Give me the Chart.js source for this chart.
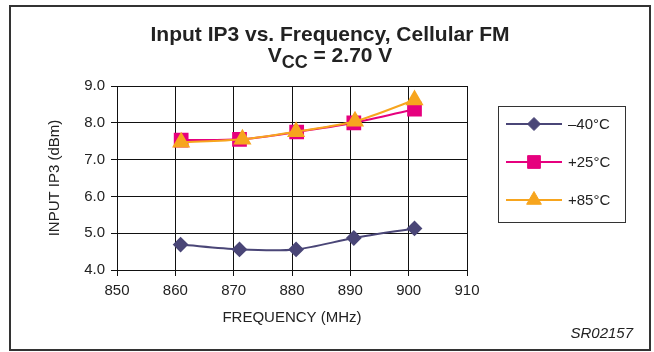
<!DOCTYPE html>
<html>
<head>
<meta charset="utf-8">
<script src="https://cdn.jsdelivr.net/npm/chart.js@4.4.1/dist/chart.umd.min.js"></script>
<style>
  html, body { margin: 0; padding: 0; background: #fff; }
  #wrap { width: 654px; height: 352px; }
</style>
</head>
<body>
<div id="wrap"><canvas id="wykres" width="654" height="352"></canvas></div>
<script>
// ────────────────────────────────────────────────
// DANE – częstotliwość (MHz) i IP3 wejściowe (dBm)
// ────────────────────────────────────────────────
const freqM40 = [860.9, 871.0, 880.7, 890.6, 901.0];
const ip3M40  = [4.69, 4.56, 4.56, 4.87, 5.13];

const freqP25 = [861.0, 871.0, 880.8, 890.6, 901.0];
const ip3P25  = [7.53, 7.55, 7.75, 8.00, 8.37];

const freqP85 = [861.0, 871.5, 880.7, 890.8, 901.0];
const ip3P85  = [7.47, 7.55, 7.76, 8.04, 8.62];

const serieEtykiety = ["\u201340\u00b0C", "+25\u00b0C", "+85\u00b0C"];
const xTicks = [850, 860, 870, 880, 890, 900, 910];
const yTicks = [4.0, 5.0, 6.0, 7.0, 8.0, 9.0];

const FONT = "'Liberation Sans', Arial, Helvetica, sans-serif";
const TEXT = "#222";

function punkty(xs, ys) {
  return xs.map((x, i) => ({ x, y: ys[i] }));
}

// ────────────────────────────────────────────────
// Tytuł, legenda w ramce, ramka zewnętrzna, sygnatura
// ────────────────────────────────────────────────
const dodatki = {
  id: "dodatki",
  afterDraw(chart) {
    const ctx = chart.ctx;
    ctx.save();

    // ramka dookoła całości
    ctx.strokeStyle = "#333";
    ctx.lineWidth = 2;
    ctx.strokeRect(10, 6, 640, 344);

    // tytuł – linia 1
    ctx.fillStyle = TEXT;
    ctx.textBaseline = "alphabetic";
    ctx.textAlign = "center";
    ctx.font = "bold 21px " + FONT;
    ctx.fillText("Input IP3 vs. Frequency, Cellular FM", 330, 41);

    // tytuł – linia 2 z indeksem dolnym
    const big = "bold 21px " + FONT;
    const sub = "bold 18px " + FONT;
    ctx.textAlign = "left";
    ctx.font = big; const wV = ctx.measureText("V").width;
    ctx.font = sub; const wCC = ctx.measureText("CC").width;
    ctx.font = big; const wReszta = ctx.measureText(" = 2.70 V").width;
    let x0 = 330 - (wV + wCC + wReszta) / 2;
    ctx.font = big; ctx.fillText("V", x0, 62);
    ctx.font = sub; ctx.fillText("CC", x0 + wV, 68);
    ctx.font = big; ctx.fillText(" = 2.70 V", x0 + wV + wCC, 62);

    // legenda
    ctx.strokeStyle = "#333";
    ctx.lineWidth = 1;
    ctx.strokeRect(498.5, 106.5, 127, 116);
    const wiersze = [124, 162, 200];
    ctx.font = "15px " + FONT;
    ctx.textBaseline = "middle";
    chart.data.datasets.forEach((ds, i) => {
      const y = wiersze[i];
      ctx.strokeStyle = ds.borderColor;
      ctx.lineWidth = ds.borderWidth;
      ctx.beginPath();
      ctx.moveTo(506, y);
      ctx.lineTo(562, y);
      ctx.stroke();
      ctx.fillStyle = ds.pointBackgroundColor;
      ctx.strokeStyle = ds.pointBorderColor;
      ctx.lineWidth = 1;
      Chart.helpers.drawPoint(ctx, {
        pointStyle: ds.pointStyle, radius: ds.pointRadius, rotation: 0, borderWidth: 1
      }, 534, y);
      ctx.fillStyle = TEXT;
      ctx.fillText(ds.label, 568, y + 1);
    });

    // sygnatura rysunku
    ctx.font = "italic 15px " + FONT;
    ctx.textAlign = "right";
    ctx.textBaseline = "alphabetic";
    ctx.fillStyle = TEXT;
    ctx.fillText("SR02157", 633, 338);

    ctx.restore();
  }
};

const linia = (label, xs, ys, kolor, styl, r, order) => ({
  label,
  data: punkty(xs, ys),
  borderColor: kolor,
  backgroundColor: kolor,
  pointBackgroundColor: kolor,
  pointBorderColor: kolor,
  borderWidth: 2,
  pointStyle: styl,
  pointRadius: r,
  pointHoverRadius: r,
  tension: 0.3,
  showLine: true,
  order
});

new Chart(document.getElementById("wykres"), {
  type: "scatter",
  data: {
    datasets: [
      linia(serieEtykiety[0], freqM40, ip3M40, "#4a4677", "rectRot", 6.5, 2),
      linia(serieEtykiety[1], freqP25, ip3P25, "#e6007e", "rect", 9, 1),
      linia(serieEtykiety[2], freqP85, ip3P85, "#f7a51e", "triangle", 8.5, 0)
    ]
  },
  options: {
    responsive: false,
    devicePixelRatio: 1,
    animation: false,
    layout: { padding: { top: 86, right: 187, bottom: 0, left: 0 } },
    plugins: {
      legend: { display: false },
      tooltip: { enabled: false },
      title: { display: false }
    },
    scales: {
      x: {
        type: "linear",
        min: xTicks[0],
        max: xTicks[xTicks.length - 1],
        afterBuildTicks: s => { s.ticks = xTicks.map(v => ({ value: v })); },
        afterFit: s => { s.height = 82; },
        ticks: {
          color: TEXT,
          font: { family: FONT, size: 15 },
          padding: 6,
          callback: v => String(v)
        },
        grid: { color: "#111", lineWidth: 1, tickLength: 6, drawTicks: true },
        border: { color: "#111", width: 1 },
        title: {
          display: true,
          text: "FREQUENCY (MHz)",
          color: TEXT,
          font: { family: FONT, size: 15 },
          padding: { top: 0, bottom: 25 }
        }
      },
      y: {
        type: "linear",
        min: yTicks[0],
        max: yTicks[yTicks.length - 1],
        afterBuildTicks: s => { s.ticks = yTicks.map(v => ({ value: v })); },
        afterFit: s => { s.width = 117; },
        ticks: {
          color: TEXT,
          font: { family: FONT, size: 15 },
          padding: 6,
          callback: v => Number(v).toFixed(1)
        },
        grid: { color: "#111", lineWidth: 1, tickLength: 6, drawTicks: true },
        border: { color: "#111", width: 1 },
        title: {
          display: true,
          text: "INPUT IP3 (dBm)",
          color: TEXT,
          font: { family: FONT, size: 15 },
          padding: { top: 46, bottom: 0 }
        }
      }
    }
  },
  plugins: [dodatki]
});
</script>
</body>
</html>
